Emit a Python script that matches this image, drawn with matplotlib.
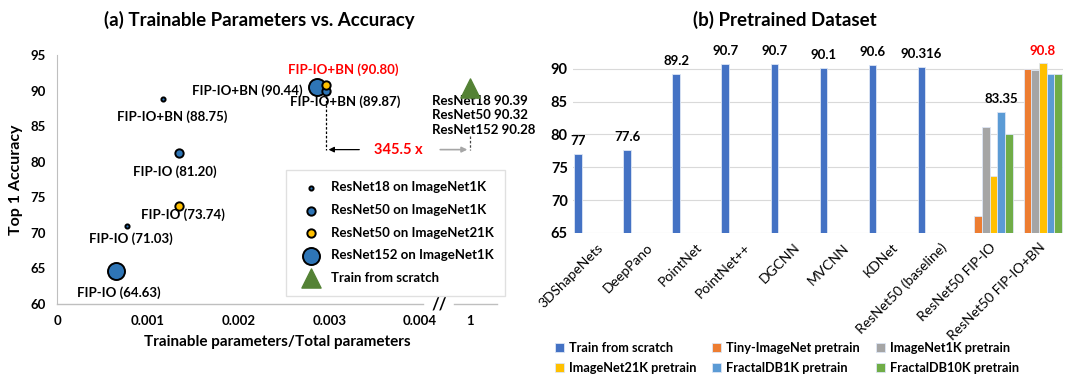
import numpy as np
import matplotlib
matplotlib.use("Agg")
import matplotlib.pyplot as plt

plt.rcParams["font.family"] = ["Lato", "DejaVu Sans"]

# ── Panel (a) data ────────────────────────────────────────────────────────────
BREAK_POS = 0.00455          # where ratio == 1 is drawn after the axis break
series_a = ["ResNet18 on ImageNet1K", "ResNet50 on ImageNet1K",
            "ResNet50 on ImageNet21K", "ResNet152 on ImageNet1K"]
ratio_io = [0.000768, 0.00134, 0.00134, 0.000654]
acc_io = [71.03, 81.20, 73.74, 64.63]
ratio_bn = [0.00117, 0.00296, 0.00296, 0.00286]
acc_bn = [88.75, 89.87, 90.80, 90.44]
scratch_ratio = 1.0
scratch_acc = [90.39, 90.32, 90.28]
scratch_names = ["ResNet18", "ResNet50", "ResNet152"]
speedup = 345.5

# ── Panel (b) data ────────────────────────────────────────────────────────────
methods = ["3DShapeNets", "DeepPano", "PointNet", "PointNet++", "DGCNN", "MVCNN",
           "KDNet", "ResNet50 (baseline)", "ResNet50 FIP-IO", "ResNet50 FIP-IO+BN"]
pretrain = ["Train from scratch", "Tiny-ImageNet pretrain", "ImageNet1K pretrain",
            "ImageNet21K pretrain", "FractalDB1K pretrain", "FractalDB10K pretrain"]
nan = np.nan
scores = [
    [77, 77.6, 89.2, 90.7, 90.7, 90.1, 90.6, 90.316, nan, nan],
    [nan] * 8 + [67.6, 89.9],
    [nan] * 8 + [81.1, 89.8],
    [nan] * 8 + [73.7, 90.8],
    [nan] * 8 + [83.35, 89.2],
    [nan] * 8 + [80.0, 89.2],
]
bar_labels = {(0, i): None for i in range(8)}
bar_labels[(4, 8)] = "83.35"
bar_labels[(3, 9)] = "90.8"

BLUE = "#2E75B6"
YEL = "#FFC000"
bar_colors = ["#4472C4", "#ED7D31", "#A5A5A5", "#FFC000", "#5B9BD5", "#70AD47"]

fig = plt.figure(figsize=(10.83, 3.79), dpi=100)

# ── (a) scatter ───────────────────────────────────────────────────────────────
ax = fig.add_axes([57 / 1083, 1 - 304 / 379, 440 / 1083, 249 / 379])
face = [BLUE, BLUE, YEL, BLUE]
sizes = [9, 36, 36, 150]
for i, name in enumerate(series_a):
    ax.scatter([ratio_io[i], ratio_bn[i]], [acc_io[i], acc_bn[i]], s=sizes[i],
               c=face[i], edgecolors="black", linewidths=1.4,
               zorder=4 if i != 3 else 3, label=name)
xs = BREAK_POS if scratch_ratio > 0.0045 else scratch_ratio
ax.scatter([xs], [np.mean(scratch_acc)], marker="^", s=190, c="#548235",
           zorder=4, label="Train from scratch")

fs = 9.5
lab_kw = dict(fontsize=fs, fontweight="bold", ha="center", va="center")
io_off = [(0.00005, -1.8), (-0.00004, -2.6), (0.00005, -1.25), (0.00003, -3.0)]
for i in range(4):
    ax.text(ratio_io[i] + io_off[i][0], acc_io[i] + io_off[i][1],
            f"FIP-IO ({acc_io[i]:.2f})", **lab_kw)
ax.text(ratio_bn[0] + 0.0001, acc_bn[0] - 2.35, f"FIP-IO+BN ({acc_bn[0]:.2f})", **lab_kw)
ax.text(ratio_bn[1] + 0.00021, acc_bn[1] - 1.45, f"FIP-IO+BN ({acc_bn[1]:.2f})", **lab_kw)
ax.text(ratio_bn[2] + 0.00019, acc_bn[2] + 2.2, f"FIP-IO+BN ({acc_bn[2]:.2f})",
        color="red", **lab_kw)
ax.text(ratio_bn[3] - 0.00016, acc_bn[3] - 0.5, f"FIP-IO+BN ({acc_bn[3]:.2f})",
        fontsize=fs, fontweight="bold", ha="right", va="center")
for j, (n, a) in enumerate(zip(scratch_names, scratch_acc)):
    ax.text(0.00413, 88.6 - 2.1 * j, f"{n} {a:.2f}", fontsize=fs, fontweight="bold",
            ha="left", va="center")

# speed-up annotation
yarr = 81.7
ax.plot([ratio_bn[1]] * 2, [acc_bn[1] - 0.6, yarr], ls=(0, (2, 1.5)), c="black", lw=0.9)
ax.plot([xs] * 2, [83.6, yarr], ls=(0, (2, 1.5)), c="#444444", lw=0.9)
ax.annotate("", xy=(ratio_bn[1], yarr), xytext=(0.00336, yarr),
            arrowprops=dict(arrowstyle="-|>", color="black", lw=0.9, mutation_scale=8))
ax.annotate("", xy=(xs, yarr), xytext=(0.00419, yarr),
            arrowprops=dict(arrowstyle="-|>", color="#A6A6A6", lw=1.2, mutation_scale=8))
ax.text(0.00376, yarr, f"{speedup} x", color="red", fontsize=10.5, fontweight="bold",
        ha="center", va="center")

ax.set_xlim(0, 0.004846)
ax.set_ylim(60, 95)
ax.set_yticks(range(60, 96, 5))
ax.set_xticks([0, 0.001, 0.002, 0.003, 0.004, BREAK_POS])
ax.set_xticklabels(["0", "0.001", "0.002", "0.003", "0.004", "1"])
ax.tick_params(length=0, labelsize=9.5, pad=8)
for t in ax.get_xticklabels() + ax.get_yticklabels():
    t.set_fontweight("bold")
for s in ["top", "right", "bottom"]:
    ax.spines[s].set_visible(False)
ax.spines["left"].set_color("#BFBFBF")
gray = "#BFBFBF"
ax.plot([0, 0.832], [0, 0], transform=ax.transAxes, c=gray, lw=1, clip_on=False)
ax.plot([0.903, 1.0], [0, 0], transform=ax.transAxes, c=gray, lw=1, clip_on=False)
ax.text(0.868, 0.0, "//", transform=ax.transAxes, fontsize=12, fontweight="bold",
        ha="center", va="center")
ax.set_xlabel("Trainable parameters/Total parameters", fontsize=11, fontweight="bold",
              labelpad=6)
ax.set_ylabel("Top 1 Accuracy", fontsize=11.5, fontweight="bold", labelpad=5)
leg = ax.legend(loc="upper left", bbox_to_anchor=(0.52, 0.54), fontsize=9.5,
                frameon=True, fancybox=False, edgecolor="#D9D9D9", scatterpoints=1,
                labelspacing=0.8, borderpad=0.9, handletextpad=0.5, borderaxespad=0)
for t in leg.get_texts():
    t.set_fontweight("bold")
fig.text(259 / 1083, 1 - 20 / 379, "(a) Trainable Parameters vs. Accuracy",
         fontsize=13.5, fontweight="bold", ha="center", va="center")

# ── (b) clustered bars ────────────────────────────────────────────────────────
bx = fig.add_axes([572.7 / 1083, 1 - 233 / 379, 490.7 / 1083, 184 / 379])
x = np.arange(len(methods))
w = 0.156
handles = []
for k, name in enumerate(pretrain):
    vals = np.array(scores[k], dtype=float)
    pos = x + (k - 2.5) * w
    ok = ~np.isnan(vals)
    h = bx.bar(pos[ok], vals[ok] - 65, w, bottom=65, color=bar_colors[k],
               edgecolor="#DDE6F5", linewidth=0.6, label=name, zorder=3)
    handles.append(h)
    for i in np.where(ok)[0]:
        if (k, i) in bar_labels:
            txt = bar_labels[(k, i)] or f"{vals[i]:g}"
            bx.annotate(txt, (pos[i], vals[i]), xytext=(0, 5), textcoords="offset points",
                        ha="center", va="bottom", fontsize=9.5, fontweight="bold",
                        color="red" if txt == "90.8" else "black")
bx.set_xlim(-0.5, 9.5)
bx.set_ylim(65, 93)
bx.set_yticks(range(65, 91, 5))
bx.set_xticks(x)
bx.set_xticklabels(methods, rotation=45, ha="right", rotation_mode="anchor", fontsize=10)
bx.tick_params(axis="y", length=0, labelsize=10.5)
bx.tick_params(axis="x", length=0, pad=6)
for t in bx.get_yticklabels():
    t.set_fontweight("bold")
bx.grid(axis="y", color="#D9D9D9", lw=0.8, zorder=0)
for s in bx.spines.values():
    s.set_visible(False)
order = [0, 3, 1, 4, 2, 5]   # row-wise like the original legend
bl = bx.legend([handles[i] for i in order], [pretrain[i] for i in order],
               loc="upper left", bbox_to_anchor=(-0.047, -0.565), ncol=3, fontsize=9.2,
               frameon=False, handlelength=0.7, handleheight=0.7, handletextpad=0.4,
               columnspacing=1.25, labelspacing=0.6, borderaxespad=0)
for t in bl.get_texts():
    t.set_fontweight("bold")
fig.text(785 / 1083, 1 - 20 / 379, "(b) Pretrained Dataset",
         fontsize=13.5, fontweight="bold", ha="center", va="center")

fig.savefig("out.png", dpi=100)
